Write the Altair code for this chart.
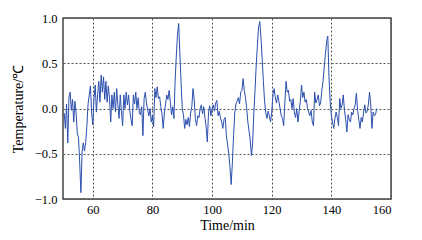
import altair as alt
import pandas as pd

t_start = 50.4
t_step = 0.4
temperature = [
    -0.05, -0.22, 0.05, -0.38, 0.12, 0.18, -0.02, 0.1, -0.15, 0.08,
    -0.05, -0.28, -0.32, -0.6, -0.93, -0.48, -0.38, -0.47, -0.38, -0.2,
    0.05, 0.15, 0.25, -0.05, -0.18, 0.11, 0.26, -0.04, 0.15, 0.3,
    0.07, 0.37, 0.18, 0.35, 0.1, 0.3, 0.07, 0.25, 0.11, -0.15,
    0.15, 0.0, 0.18, -0.04, 0.22, 0.04, -0.11, 0.15, -0.04, -0.19,
    0.15, 0.0, 0.18, 0.04, 0.15, -0.02, -0.12, -0.19, 0.15, 0.05,
    0.18, 0.0, 0.12, -0.05, -0.07, 0.02, -0.3, 0.11, 0.18, 0.06,
    -0.02, -0.08, 0.0, -0.15, -0.08, -0.2, 0.22, 0.12, 0.24, 0.11,
    0.13, 0.02, -0.06, -0.22, -0.05, 0.05, 0.15, 0.1, 0.2, 0.07,
    -0.07, 0.02, -0.11, 0.3, 0.58, 0.82, 0.94, 0.6, 0.28, 0.0,
    -0.07, -0.22, -0.12, -0.18, -0.1, -0.2, -0.05, 0.02, 0.22, 0.1,
    -0.12, -0.19, -0.08, -0.1, 0.0, 0.04, -0.06, 0.02, -0.1, -0.2,
    -0.37, -0.05, 0.03, -0.08, 0.0, 0.04, -0.03, 0.06, 0.09, -0.08,
    -0.03, -0.1, -0.15, -0.22, -0.12, -0.1, -0.3, -0.4, -0.5, -0.65,
    -0.84, -0.6, -0.3, -0.05, 0.05, 0.08, 0.12, 0.05, 0.18, 0.2,
    0.33, 0.2, 0.12, 0.0, -0.15, -0.25, -0.35, -0.52, -0.38, -0.05,
    0.2, 0.48, 0.7, 0.9, 0.96, 0.78, 0.55, 0.3, 0.08, -0.05,
    -0.11, -0.03, -0.08, -0.15, -0.04, 0.15, 0.22, 0.12, 0.06, 0.15,
    0.08, 0.0, -0.08, -0.11, -0.19, 0.06, 0.3, 0.18, 0.2, 0.08,
    0.1, 0.0, 0.11, -0.05, -0.1, 0.0, -0.15, -0.03, 0.08, 0.26,
    0.12, 0.18, 0.07, 0.1, 0.0, -0.04, -0.08, -0.02, -0.15, -0.19,
    0.18, 0.06, 0.1, 0.15, 0.03, 0.06, 0.2, 0.3, 0.45, 0.6,
    0.74, 0.8, 0.35, 0.08, -0.08, -0.15, -0.22, -0.11, -0.04, -0.1,
    -0.19, 0.11, 0.0, 0.04, 0.15, -0.02, -0.12, -0.26, -0.07, -0.12,
    -0.15, -0.04, -0.07, 0.0, 0.04, 0.17, -0.02, -0.12, -0.22, -0.1,
    -0.15, -0.04, 0.04, -0.05, -0.03, 0.04, 0.18, 0.05, -0.22, -0.04,
    -0.08, -0.07, 0.0,
]
time_min = [round(t_start + t_step * i, 2) for i in range(len(temperature))]
x_ticks = [60, 80, 100, 120, 140, 160]
y_ticks = [-1.0, -0.5, 0.0, 0.5, 1.0]

df = pd.DataFrame({"t": time_min, "v": temperature})

font = "Times New Roman, Liberation Serif, Times, serif"

chart = alt.Chart(df).mark_line(color="#2b4fae", strokeWidth=1.0).encode(
    x=alt.X("t:Q", scale=alt.Scale(domain=[50, 160], nice=False, zero=False),
            axis=alt.Axis(values=x_ticks, title="Time/min", format="d")),
    y=alt.Y("v:Q", scale=alt.Scale(domain=[-1, 1], nice=False),
            axis=alt.Axis(values=y_ticks, title="Temperature/℃", format=".1f")),
).properties(
    width=328, height=181,
    autosize=alt.AutoSizeParams(type="none"),
    padding={"left": 55, "top": 10, "right": 20, "bottom": 40},
).configure_view(
    stroke="#444444", strokeWidth=1.5
).configure_axis(
    domain=False, ticks=False,
    grid=True, gridColor="#555555", gridDash=[2, 2], gridWidth=1, gridOpacity=1,
    labelFont=font, labelFontSize=12.5, labelColor="#000000",
    titleFont=font, titleFontSize=14, titleColor="#000000", titleFontWeight="normal",
    labelPadding=6,
).configure_axisX(
    labelPadding=4, titlePadding=3
).configure_axisY(
    titlePadding=9
)

chart.save("out.html", embed_options={"renderer": "svg", "actions": False})
